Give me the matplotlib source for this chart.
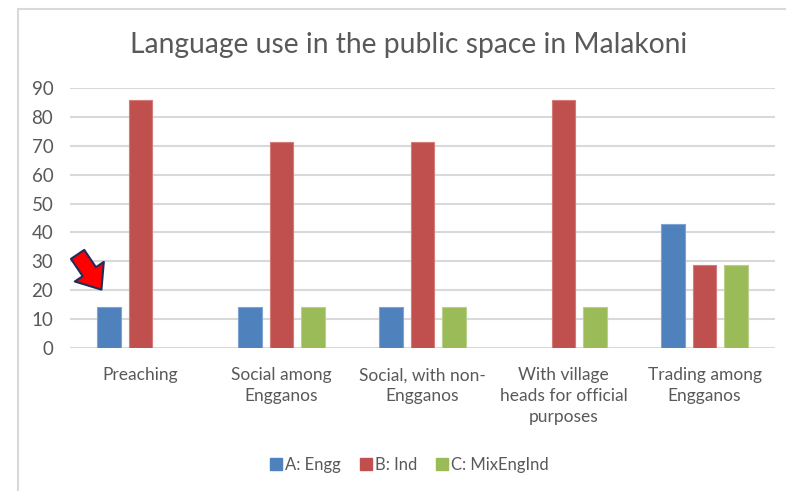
import numpy as np
import matplotlib.pyplot as plt
from matplotlib.patches import Rectangle
from matplotlib.lines import Line2D

plt.rcParams['font.family'] = ['Lato', 'DejaVu Sans']

categories = ['Preaching', 'Social among\nEngganos', 'Social, with non-\nEngganos',
              'With village\nheads for official\npurposes', 'Trading among\nEngganos']
series_names = ['A: Engg', 'B: Ind', 'C: MixEngInd']
engg = [14.3, 14.3, 14.3, 0, 42.9]
ind = [85.7, 71.4, 71.4, 85.7, 28.6]
mix = [0, 14.3, 14.3, 14.3, 28.6]
yticks = list(range(0, 100, 10))

colors = ['#4F81BD', '#C0504D', '#9BBB59']
edges = ['#7FA3D3', '#D27B78', '#B8D08A']
text_grey = '#595959'
grid_grey = '#D9D9D9'

fig = plt.figure(figsize=(7.86, 4.91), dpi=100)

# chart frame, cut at right and bottom
fig.patches.append(Rectangle((18 / 786, -0.05), 1.0, 1 - 9 / 491 + 0.05,
                             transform=fig.transFigure, fill=False,
                             edgecolor=grid_grey, linewidth=1.5))

ax = fig.add_axes([70 / 786, 1 - 348 / 491, 705 / 786, 260 / 491])
x = np.arange(len(categories))
width = 0.17
step = 0.225
for i, vals in enumerate([engg, ind, mix]):
    ax.bar(x + (i - 1) * step, vals, width, color=colors[i],
           edgecolor=edges[i], linewidth=0.8, zorder=3, label=series_names[i])

ax.set_xlim(-0.5, len(categories) - 0.5)
ax.set_ylim(0, 90)
ax.set_yticks(yticks)
ax.yaxis.grid(True, color=grid_grey, linewidth=1.5, zorder=0)
for s in ax.spines.values():
    s.set_visible(False)
ax.tick_params(axis='both', length=0, colors=text_grey, labelsize=12.5)
ax.tick_params(axis='y', pad=12, labelsize=13.5)
ax.tick_params(axis='x', pad=14)
ax.set_xticks(x)
ax.set_xticklabels(categories, linespacing=1.35)

fig.text(409 / 786, 1 - 45 / 491, 'Language use in the public space in Malakoni',
         ha='center', va='center', fontsize=20.3, color=text_grey)

# red arrow pointing at the first blue bar
bx = x[0] - step
ax.annotate('', xy=(bx - 0.041, engg[0] + 5.1), xytext=(bx - 0.232, engg[0] + 18.9),
            arrowprops=dict(arrowstyle='simple,head_length=0.65,head_width=1.05,tail_width=0.48',
                            mutation_scale=24, fc='#FF0000', ec='#1F2D5A', lw=1.5),
            zorder=5)

handles = [Line2D([], [], marker='s', linestyle='', markersize=8.5,
                  markerfacecolor=c, markeredgecolor=c) for c in colors]
fig.legend(handles, series_names, loc='center', bbox_to_anchor=(409 / 786, 1 - 465 / 491),
           ncol=3, frameon=False, fontsize=12, labelcolor=text_grey,
           handletextpad=0.15, columnspacing=1.1, handlelength=0.8)

fig.savefig('out.png', dpi=100)
